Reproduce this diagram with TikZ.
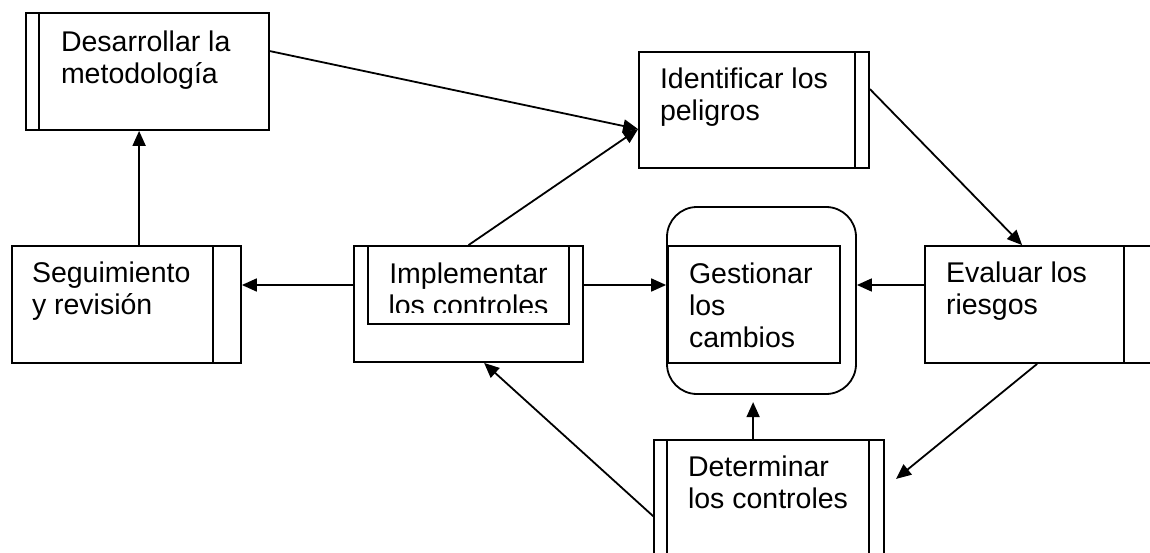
\documentclass[tikz,border=0pt]{standalone}
\usepackage{fontspec}
\setmainfont{Liberation Sans}
\usetikzlibrary{arrows.meta}

\begin{document}
\begin{tikzpicture}[x=1pt, y=-1pt, line width=1.8pt, >={Triangle[length=15pt,width=13pt]},
  box/.style={draw, rectangle, inner sep=0pt},
  txt/.style={inner sep=0pt, align=left, font=\fontsize{28.5}{32}\selectfont}]
\useasboundingbox (0,0) rectangle (1150,553);
\clip (0,0) rectangle (1150,553);

\node[box, minimum width=243, minimum height=117] (desa) at (147.5,71.5) {};
\node[box, minimum width=230, minimum height=116] (iden) at (754,110) {};
\node[box, minimum width=229, minimum height=117] (seg) at (126.5,304.5) {};
\node[box, minimum width=229, minimum height=116] (impl) at (468.5,304) {};
\node[box, minimum width=201, minimum height=78] (implin) at (468.5,285) {};
\node[box, rounded corners=30pt, minimum width=189, minimum height=187] (gest) at (761.5,300.5) {};
\node[box, minimum width=172, minimum height=117] (gestin) at (754,304.5) {};
\node[box, minimum width=250, minimum height=117] (eval) at (1050,304.5) {};
\node[box, minimum width=230, minimum height=140] (dete) at (769,510) {};

% side bars
\draw ([xshift=14pt]desa.north west) -- ([xshift=14pt]desa.south west);
\draw ([xshift=-15pt]iden.north east) -- ([xshift=-15pt]iden.south east);
\draw ([xshift=-29pt]seg.north east) -- ([xshift=-29pt]seg.south east);
\draw ([xshift=200pt]eval.north west) -- ([xshift=200pt]eval.south west);
\draw ([xshift=14pt]dete.north west) -- ([xshift=14pt]dete.south west);
\draw ([xshift=-16pt]dete.north east) -- ([xshift=-16pt]dete.south east);

% texts (base = last line)
\node[txt, anchor=base west] (desa-t) at ([shift={(35,71)}]desa.north west) {Desarrollar la\\metodología};
\node[txt, anchor=base west] (iden-t) at ([shift={(21,69)}]iden.north west) {Identificar los\\peligros};
\node[txt, anchor=base west] (seg-t) at ([shift={(20,69)}]seg.north west) {Seguimiento\\y revisión};
\begin{scope}
  \clip (implin.north west) rectangle ([yshift=12pt]implin.south east);
  \node[txt, align=center, anchor=base] (impl-t) at ([yshift=-70pt]implin.north) {Implementar\\los controles};
\end{scope}
\node[txt, anchor=base west] (gest-t) at ([shift={(22,141)}]gest.north west) {Gestionar\\los\\cambios};
\node[txt, anchor=base west] (eval-t) at ([shift={(21,69)}]eval.north west) {Evaluar los\\riesgos};
\node[txt, anchor=base west] (dete-t) at ([shift={(34,69)}]dete.north west) {Determinar\\los controles};

% connectors
\coordinate (row) at (0,285);
\coordinate (up) at ([shift={(100,-37)}]dete.north west);
\coordinate (dn) at ([shift={(-28,115)}]eval.south west);
\draw[->] ([xshift=128pt]seg.north west) -- ([xshift=128pt]seg.north west |- desa.south);
\draw[->] ([yshift=-39pt]desa.north east) -- ([yshift=-78pt]iden.north west);
\draw[->] (impl.north) -- ([yshift=-78pt]iden.north west);
\draw[->] ([yshift=-38pt]iden.north east) -- ([xshift=98pt]eval.north west);
\draw[->] (impl.west |- row) -- (seg.east |- row);
\draw[->] (impl.east |- row) -- (gest.west |- row);
\draw[->] (eval.west |- row) -- (gest.east |- row);
\draw[->] ([xshift=113pt]eval.south west) -- (dn);
\draw[->] ([xshift=100pt]dete.north west) -- (up);
\draw[->] ([yshift=-77pt]dete.north west) -- ([xshift=131pt]impl.south west);
\end{tikzpicture}
\end{document}
